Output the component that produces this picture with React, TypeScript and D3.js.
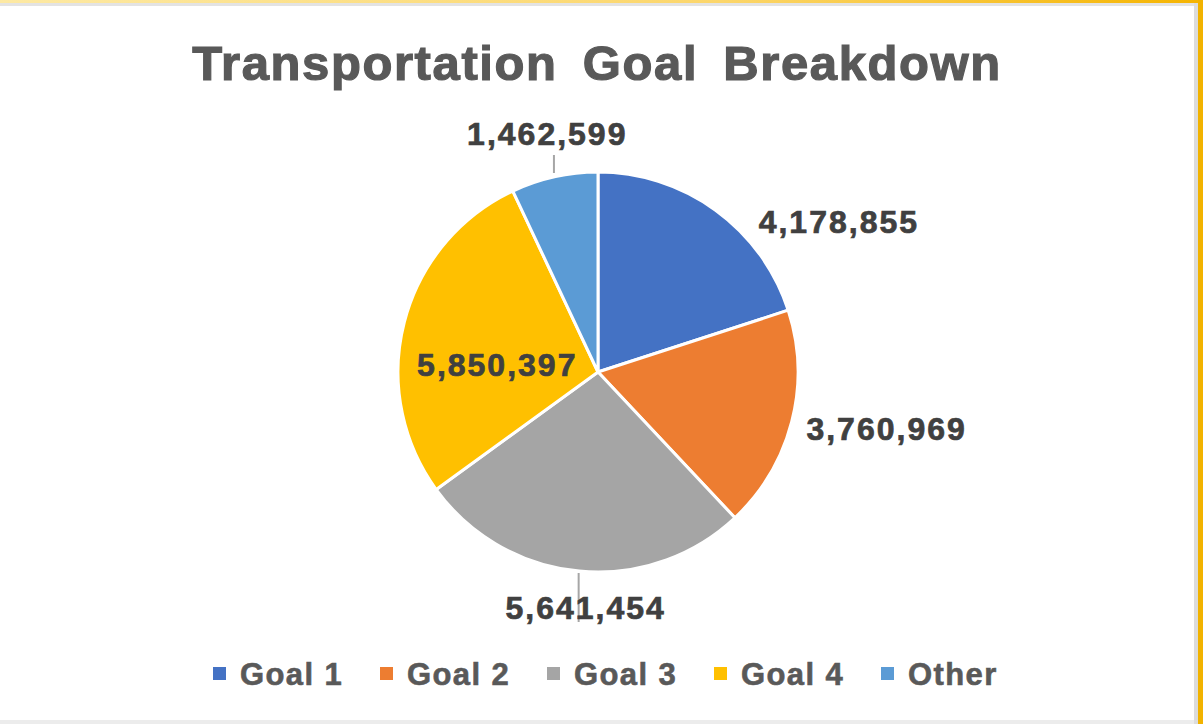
import React from "react";
import * as d3 from "d3";

const categories = ["Goal 1", "Goal 2", "Goal 3", "Goal 4", "Other"];
const values = [4178855, 3760969, 5641454, 5850397, 1462599];
const colors = ["#4472c4", "#ed7d31", "#a5a5a5", "#ffc000", "#5b9bd5"];
// label placement (polar, degrees clockwise from 12 o'clock, distance from centre)
const labelAngles = [58, 101, 183, 274, 348];
const labelRadii = [284, 294, 236, 101, 244];
const leaderLines = [false, false, true, false, true];

const W = 1203;
const H = 724;
const cx = 598;
const cy = 372;
const R = 200;

export default function App() {
  const pie = d3.pie<number>().sort(null).value((d) => d)(values);
  const arc = d3.arc<d3.PieArcDatum<number>>().innerRadius(0).outerRadius(R);
  const fmt = d3.format(",");
  const legendX = d3.scalePoint<string>().domain(categories).range([213, 881]);

  return (
    <svg width={W} height={H} style={{ position: "absolute", left: 0, top: 0 }}>
      <defs>
        <linearGradient id="topband" x1="0" x2="1" y1="0" y2="0">
          <stop offset="0" stopColor="#fde9a3" />
          <stop offset="0.6" stopColor="#fcd66a" />
          <stop offset="1" stopColor="#f5b400" />
        </linearGradient>
      </defs>
      <rect x={0} y={0} width={W} height={H} fill="#ffffff" />
      <rect x={0} y={0} width={W} height={3} fill="url(#topband)" />
      <rect x={0} y={3} width={1197} height={3} fill="#e3e3e3" />
      <rect x={1194} y={3} width={4} height={H} fill="#dcdcdc" />
      <rect x={1198} y={0} width={5} height={H} fill="#f2b300" />
      <rect x={0} y={720} width={1194} height={4} fill="#ececec" />

      <text
        x={597}
        y={80}
        textAnchor="middle"
        fontFamily="Liberation Sans, Arial, sans-serif"
        fontWeight="bold"
        fontSize={49}
        letterSpacing={1.6}
        wordSpacing={10}
        fill="#595959"
        stroke="#595959"
        strokeWidth={1.2}
      >
        Transportation Goal Breakdown
      </text>

      <g transform={`translate(${cx},${cy})`}>
        {pie.map((p, i) => (
          <path key={i} d={arc(p) || ""} fill={colors[i]} stroke="#ffffff" strokeWidth={3} strokeLinejoin="round" />
        ))}
        {pie.map((p, i) => {
          const a = (labelAngles[i] * Math.PI) / 180;
          const r = labelRadii[i];
          const x = Math.sin(a) * r;
          const y = -Math.cos(a) * r;
          const mid = (p.startAngle + p.endAngle) / 2;
          return (
            <g key={"l" + i}>
              {leaderLines[i] && i === 2 && (
                <line x1={x - 7} y1={R + 1} x2={x - 7} y2={R + 50} stroke="#a6a6a6" strokeWidth={2} />
              )}
              {leaderLines[i] && i === 4 && (
                <line
                  x1={Math.sin(mid) * (R + 2)}
                  y1={-R - 17}
                  x2={Math.sin(mid) * (R + 2)}
                  y2={-R + 1}
                  stroke="#a6a6a6"
                  strokeWidth={2}
                />
              )}
              <text
                x={x}
                y={y}
                dy="0.36em"
                textAnchor="middle"
                fontFamily="Liberation Sans, Arial, sans-serif"
                fontWeight="bold"
                fontSize={32}
                letterSpacing={2}
                fill="#404040"
                stroke="#404040"
                strokeWidth={0.7}
              >
                {fmt(values[i])}
              </text>
            </g>
          );
        })}
      </g>

      <g>
        {categories.map((c, i) => {
          const x = legendX(c) as number;
          return (
            <g key={c}>
              <rect x={x} y={667} width={13} height={13} fill={colors[i]} />
              <text
                x={x + 27}
                y={685}
                fontFamily="Liberation Sans, Arial, sans-serif"
                fontWeight="bold"
                fontSize={31}
                letterSpacing={1.4}
                fill="#595959"
                stroke="#595959"
                strokeWidth={0.6}
              >
                {c}
              </text>
            </g>
          );
        })}
      </g>
    </svg>
  );
}
